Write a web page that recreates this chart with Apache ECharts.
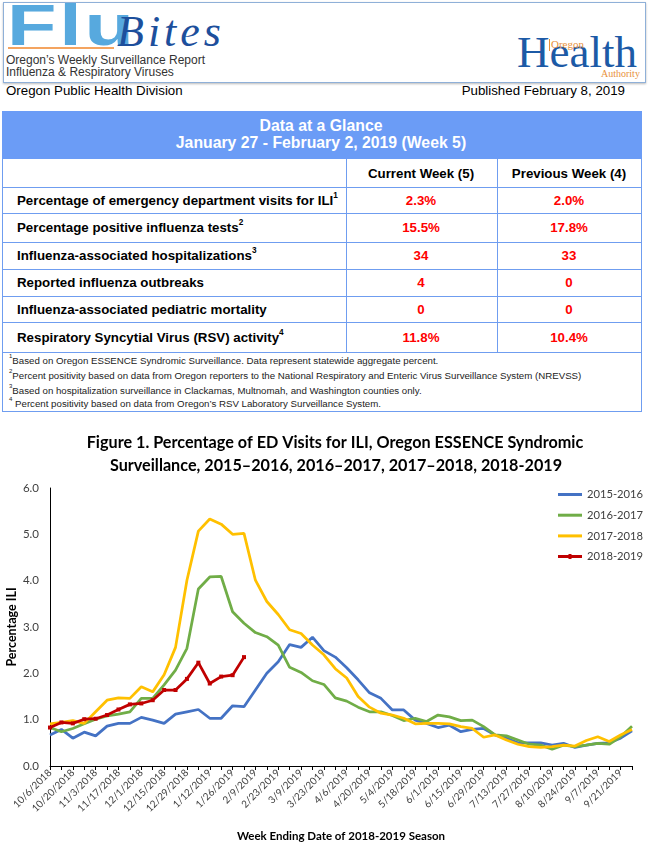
<!DOCTYPE html>
<html>
<head>
<meta charset="utf-8">
<script src="https://cdn.jsdelivr.net/npm/echarts@6/dist/echarts.min.js"></script>
<style>
  body{margin:0;width:656px;height:850px;position:relative;background:#fff;font-family:'Liberation Sans',Arial,sans-serif;overflow:hidden;}
  .abs{position:absolute;white-space:nowrap;}
  .hl{position:absolute;left:2px;width:640px;height:1px;background:#6F9DF0;}
  .vl{position:absolute;width:1px;background:#6F9DF0;}
  .lab{position:absolute;left:17px;font-weight:bold;font-size:13.3px;color:#000;transform:translateY(-50%);white-space:nowrap;}
  .val{position:absolute;font-weight:bold;font-size:13.3px;color:#FF0000;transform:translate(-50%,-50%);white-space:nowrap;}
  .colh{position:absolute;font-weight:bold;font-size:13.3px;color:#000;transform:translate(-50%,-50%);white-space:nowrap;}
  .fn{position:absolute;left:9px;font-size:9.7px;color:#222;transform:translateY(-50%);white-space:nowrap;}
  sup{font-size:62%;vertical-align:top;position:relative;top:-2px;}
</style>
</head>
<body>
<!-- Header box -->
<div class="abs" style="left:3px;top:2px;width:641px;height:79px;border:1.5px solid #8FB0D8;box-shadow:0 1px 2px #bbb;"></div>
<div class="abs" style="left:7px;top:-3px;font-size:57px;line-height:57px;font-weight:bold;color:#57A9DE;transform:scaleX(1.42);transform-origin:left top;letter-spacing:2px;">Flu</div>
<div class="abs" style="left:8px;top:47px;width:106px;height:1.5px;background:#F4A460;"></div>
<div class="abs" style="left:117px;top:10px;font-family:'Liberation Serif',serif;font-style:italic;font-size:44px;line-height:44px;color:#1D4F9C;letter-spacing:4px;">Bites</div>
<div class="abs" style="left:6px;top:53px;font-size:12px;line-height:14px;color:#333;">Oregon’s Weekly Surveillance Report</div>
<div class="abs" style="left:6px;top:65px;font-size:12px;line-height:14px;color:#333;">Influenza &amp; Respiratory Viruses</div>
<div class="abs" style="left:517px;top:30px;font-family:'Liberation Serif',serif;font-size:45px;line-height:45px;color:#1C5AA6;">Health</div>
<div class="abs" style="left:549px;top:39px;width:1px;height:12px;background:#E8913A;"></div>
<div class="abs" style="left:551px;top:38px;font-family:'Liberation Serif',serif;font-size:11px;line-height:13px;color:#E8913A;">Oregon</div>
<div class="abs" style="left:601px;top:68px;font-family:'Liberation Serif',serif;font-size:10px;line-height:12px;color:#E8913A;">Authority</div>
<div class="abs" style="left:6px;top:83px;font-size:13.3px;line-height:16px;color:#000;">Oregon Public Health Division</div>
<div class="abs" style="right:31px;top:83px;font-size:13.3px;line-height:16px;color:#000;">Published February 8, 2019</div>

<!-- Table -->
<div class="abs" style="left:2px;top:111px;width:638px;height:300px;border:1px solid #6F9DF0;border-top:none;"></div>
<div class="abs" style="left:2px;top:111px;width:640px;height:48px;background:#6B9CF6;"></div>
<div class="abs" style="left:321px;top:126px;transform:translate(-50%,-50%);font-weight:bold;font-size:15.8px;color:#fff;">Data at a Glance</div>
<div class="abs" style="left:321px;top:143px;transform:translate(-50%,-50%);font-weight:bold;font-size:15.8px;color:#fff;">January 27 - February 2, 2019 (Week 5)</div>
<div class="hl" style="top:187px"></div>
<div class="hl" style="top:213px"></div>
<div class="hl" style="top:242px"></div>
<div class="hl" style="top:269px"></div>
<div class="hl" style="top:296px"></div>
<div class="hl" style="top:322px"></div>
<div class="hl" style="top:352px"></div>
<div class="vl" style="left:346px;top:159px;height:193px"></div>
<div class="vl" style="left:497px;top:159px;height:193px"></div>
<div class="colh" style="left:421px;top:173px">Current Week (5)</div>
<div class="colh" style="left:569px;top:173px">Previous Week (4)</div>
<div class="lab" style="top:200px">Percentage of emergency department visits for ILI<sup>1</sup></div>
<div class="lab" style="top:227px">Percentage positive influenza tests<sup>2</sup></div>
<div class="lab" style="top:255px">Influenza-associated hospitalizations<sup>3</sup></div>
<div class="lab" style="top:282px">Reported influenza outbreaks</div>
<div class="lab" style="top:309px">Influenza-associated pediatric mortality</div>
<div class="lab" style="top:337px">Respiratory Syncytial Virus (RSV) activity<sup>4</sup></div>
<div class="val" style="left:421px;top:200px">2.3%</div><div class="val" style="left:569px;top:200px">2.0%</div>
<div class="val" style="left:421px;top:227px">15.5%</div><div class="val" style="left:569px;top:227px">17.8%</div>
<div class="val" style="left:421px;top:255px">34</div><div class="val" style="left:569px;top:255px">33</div>
<div class="val" style="left:421px;top:282px">4</div><div class="val" style="left:569px;top:282px">0</div>
<div class="val" style="left:421px;top:309px">0</div><div class="val" style="left:569px;top:309px">0</div>
<div class="val" style="left:421px;top:337px">11.8%</div><div class="val" style="left:569px;top:337px">10.4%</div>
<div class="fn" style="top:360px"><sup>1</sup>Based on Oregon ESSENCE Syndromic Surveillance. Data represent statewide aggregate percent.</div>
<div class="fn" style="top:375px"><sup>2</sup>Percent positivity based on data from Oregon reporters to the National Respiratory and Enteric Virus Surveillance System (NREVSS)</div>
<div class="fn" style="top:390px"><sup>3</sup>Based on hospitalization surveillance in Clackamas, Multnomah, and Washington counties only.</div>
<div class="fn" style="top:403px"><sup>4</sup> Percent positivity based on data from Oregon’s RSV Laboratory Surveillance System.</div>

<div id="chart" style="position:absolute;left:0;top:420px;width:656px;height:430px;"></div>
<script>
const weeks = ['10/6/2018','10/13/2018','10/20/2018','10/27/2018','11/3/2018','11/10/2018','11/17/2018','11/24/2018','12/1/2018','12/8/2018','12/15/2018','12/22/2018','12/29/2018','1/5/2019','1/12/2019','1/19/2019','1/26/2019','2/2/2019','2/9/2019','2/16/2019','2/23/2019','3/2/2019','3/9/2019','3/16/2019','3/23/2019','3/30/2019','4/6/2019','4/13/2019','4/20/2019','4/27/2019','5/4/2019','5/11/2019','5/18/2019','5/25/2019','6/1/2019','6/8/2019','6/15/2019','6/22/2019','6/29/2019','7/6/2019','7/13/2019','7/20/2019','7/27/2019','8/3/2019','8/10/2019','8/17/2019','8/24/2019','8/31/2019','9/7/2019','9/14/2019','9/21/2019','9/28/2019'];

const season1516 = [0.67,0.79,0.60,0.73,0.65,0.86,0.92,0.92,1.05,0.99,0.92,1.12,1.17,1.22,1.03,1.03,1.30,1.28,1.64,2.00,2.25,2.62,2.56,2.78,2.49,2.35,2.12,1.86,1.58,1.46,1.21,1.21,0.99,0.92,0.83,0.88,0.74,0.79,0.81,0.67,0.60,0.50,0.50,0.50,0.45,0.49,0.40,0.45,0.49,0.50,0.60,0.76];
const season1617 = [0.83,0.74,0.81,0.91,1.01,1.08,1.12,1.17,1.46,1.46,1.75,2.07,2.54,3.82,4.08,4.09,3.33,3.08,2.88,2.79,2.61,2.13,2.02,1.84,1.76,1.47,1.40,1.27,1.17,1.17,1.09,0.98,1.03,0.96,1.10,1.06,0.98,0.99,0.85,0.67,0.65,0.56,0.47,0.45,0.36,0.45,0.42,0.45,0.49,0.47,0.63,0.86];
const season1718 = [0.91,0.94,0.98,0.92,1.17,1.42,1.47,1.46,1.71,1.60,1.97,2.56,4.01,5.07,5.33,5.22,5.00,5.02,4.01,3.55,3.27,2.94,2.86,2.61,2.40,2.10,1.90,1.50,1.27,1.14,1.10,1.03,0.91,0.92,0.92,0.91,0.85,0.81,0.62,0.67,0.56,0.47,0.42,0.40,0.42,0.45,0.43,0.55,0.63,0.53,0.67,0.79];
const season1819 = [0.83,0.94,0.92,1.01,1.02,1.10,1.22,1.33,1.35,1.42,1.64,1.64,1.88,2.23,1.78,1.93,1.96,2.35];

const seriesNames = ['2015-2016','2016-2017','2017-2018','2018-2019'];
const seriesColors = ['#4472C4','#70AD47','#FFC000','#C00000'];
const yTicks = [0,1,2,3,4,5,6];

const chart = echarts.init(document.getElementById('chart'), null, {renderer:'canvas'});
const lineSeries = [season1516, season1617, season1718].map((d,i)=>({
  name: seriesNames[i], type:'line', data:d, symbol:'none',
  lineStyle:{width:2.75,color:seriesColors[i]}, itemStyle:{color:seriesColors[i]}
}));
lineSeries.push({
  name: seriesNames[3], type:'line', data:season1819, symbol:'rect', symbolSize:4,
  lineStyle:{width:2.75,color:seriesColors[3]}, itemStyle:{color:seriesColors[3]}
});
const plainIcon = 'path://M0,1H24V4H0Z';
chart.setOption({
  animation:false,
  textStyle:{fontFamily:'Lato'},
  graphic:[
    {type:'text', x:335, y:23, style:{text:'Figure 1. Percentage of ED Visits for ILI, Oregon ESSENCE Syndromic', align:'center', verticalAlign:'middle', font:'bold 16.2px Lato', fill:'#000'}},
    {type:'text', x:336, y:46, style:{text:'Surveillance, 2015–2016, 2016–2017, 2017–2018, 2018-2019', align:'center', verticalAlign:'middle', font:'bold 16.2px Lato', fill:'#000'}}
  ],
  legend:{
    orient:'vertical', left:553, top:64, itemWidth:24, itemHeight:14, itemGap:9.7,
    textStyle:{fontSize:11.2,color:'#404040',fontFamily:'Lato'},
    data:[
      {name:seriesNames[0], icon:plainIcon},{name:seriesNames[1], icon:plainIcon},{name:seriesNames[2], icon:plainIcon},
      {name:seriesNames[3], icon:'path://M0,1H24V4H0Z M10.5,0H13.5V5H10.5Z'}
    ]
  },
  grid:{left:50,right:24,top:68,bottom:84,containLabel:false,outerBoundsMode:'none'},
  xAxis:{
    type:'category', data:weeks, boundaryGap:false,
    axisLine:{lineStyle:{color:'#000',width:1}},
    axisTick:{interval:0,length:4,lineStyle:{color:'#000'}},
    axisLabel:{interval:1, rotate:45, fontSize:10, color:'#404040', margin:5, fontFamily:'Lato'},
    name:'Week Ending Date of 2018-2019 Season', nameLocation:'middle', nameGap:64, nameMoveOverlap:false,
    nameTextStyle:{fontWeight:'bold',fontSize:11.5,color:'#000',fontFamily:'Lato'}
  },
  yAxis:{
    type:'value', min:yTicks[0], max:yTicks[yTicks.length-1], interval:1,
    axisLine:{show:true,lineStyle:{color:'#000'}}, axisTick:{show:false}, splitLine:{show:false},
    axisLabel:{formatter:v=>v.toFixed(1), fontSize:11.5, color:'#404040', margin:11, fontFamily:'Lato'},
    name:'Percentage ILI', nameLocation:'middle', nameGap:32, nameMoveOverlap:false,
    nameTextStyle:{fontWeight:'bold',fontSize:12.5,color:'#000',fontFamily:'Lato'}
  },
  series: lineSeries
});
</script>
</body>
</html>
